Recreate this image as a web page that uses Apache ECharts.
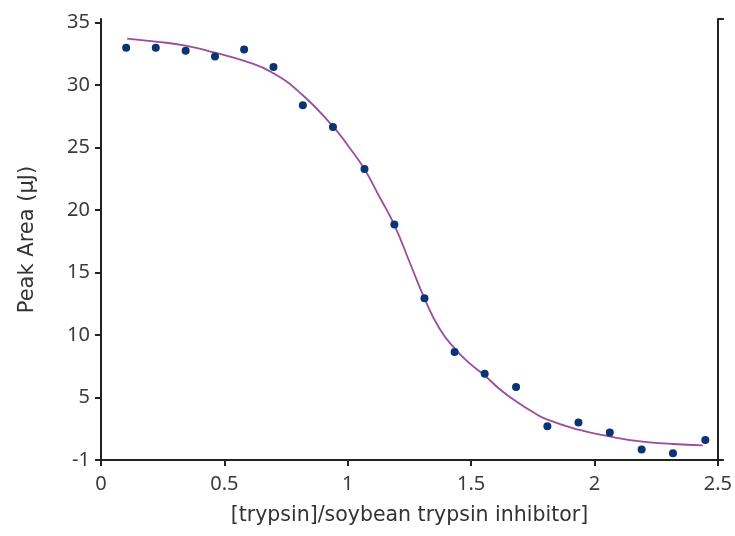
<!DOCTYPE html>
<html>
<head>
<meta charset="utf-8">
<script src="https://cdn.jsdelivr.net/npm/echarts@6/dist/echarts.min.js"></script>
<style>
html,body{margin:0;padding:0;background:#fff;}
#chart{width:735px;height:536px;}
</style>
</head>
<body>
<div id="chart"></div>
<script>
// Measured points
const ratioX = [0.102,0.222,0.343,0.462,0.580,0.699,0.818,0.940,1.068,1.189,1.311,1.433,1.555,1.682,1.809,1.935,2.062,2.191,2.318,2.449];
const peakArea = [33.0,33.0,32.75,32.3,32.85,31.45,28.4,26.65,23.3,18.85,12.95,8.65,6.9,5.85,2.7,3.0,2.2,0.85,0.55,1.6];
// Fitted curve
const fitX = [0.106,0.222,0.342,0.462,0.580,0.697,0.818,0.940,1.007,1.068,1.129,1.189,1.250,1.311,1.371,1.432,1.493,1.553,1.620,1.682,1.745,1.807,1.935,2.060,2.186,2.318,2.439];
const fitY = [33.73,33.49,33.17,32.6,31.95,30.98,29.2,26.7,25.0,23.27,21.05,18.81,15.87,12.94,10.54,8.95,7.75,6.8,5.6,4.7,3.9,3.25,2.43,1.89,1.49,1.28,1.17];
const yTicks = [0,5,10,15,20,25,30,35];
const yTickText = ['-1','5','10','15','20','25','30','35'];
const xTitle = '[trypsin]/soybean trypsin inhibitor]';
const yTitle = 'Peak Area (\u03bcJ)';

const font = 'Noto Sans';
const titleFont = 'DejaVu Sans';
const axisColor = '#222';
const chart = echarts.init(document.getElementById('chart'), null, {renderer:'canvas'});
chart.setOption({
  animation: false,
  backgroundColor: '#fff',
  grid: {left: 101, right: 16, top: 19, bottom: 76, containLabel: false},
  xAxis: {
    type: 'value', min: 0, max: 2.5, interval: 0.5,
    name: xTitle, nameLocation: 'middle', nameGap: 45,
    nameTextStyle: {fontFamily: titleFont, fontSize: 20.5, color: '#333'},
    axisLine: {show: true, lineStyle: {color: axisColor, width: 2}},
    axisTick: {show: true, inside: false, length: 6, lineStyle: {color: axisColor, width: 2}},
    axisLabel: {fontFamily: font, fontSize: 20, color: '#3a3a3a', margin: 14},
    splitLine: {show: false}
  },
  yAxis: [{
    type: 'value', min: 0, max: 35.3, position: 'left',
    name: yTitle, nameLocation: 'middle', nameGap: 63, nameRotate: 90,
    nameTextStyle: {fontFamily: titleFont, fontSize: 21, color: '#333'},
    axisLine: {show: true, onZero: false, lineStyle: {color: axisColor, width: 2}},
    axisTick: {show: true, inside: false, length: 6, customValues: yTicks, lineStyle: {color: axisColor, width: 2}},
    axisLabel: {fontFamily: font, fontSize: 20, color: '#3a3a3a', margin: 11, customValues: yTicks,
      formatter: function (v) { return yTickText[yTicks.indexOf(v)]; }},
    splitLine: {show: false}
  }, {
    type: 'value', min: 0, max: 35.3, position: 'right',
    axisLine: {show: true, onZero: false, lineStyle: {color: axisColor, width: 2}},
    axisTick: {show: true, inside: false, length: 6, customValues: [0, 35.3], lineStyle: {color: axisColor, width: 2}},
    axisLabel: {show: false},
    splitLine: {show: false}
  }],
  series: [{
    type: 'line',
    data: fitX.map((x, i) => [x, fitY[i]]),
    smooth: 0.5,
    showSymbol: false,
    lineStyle: {color: '#9a4d9f', width: 1.8},
    z: 2
  }, {
    type: 'scatter',
    data: ratioX.map((x, i) => [x, peakArea[i]]),
    symbol: 'circle', symbolSize: 8,
    itemStyle: {color: '#0a3573', opacity: 1},
    z: 3
  }]
});
</script>
</body>
</html>
